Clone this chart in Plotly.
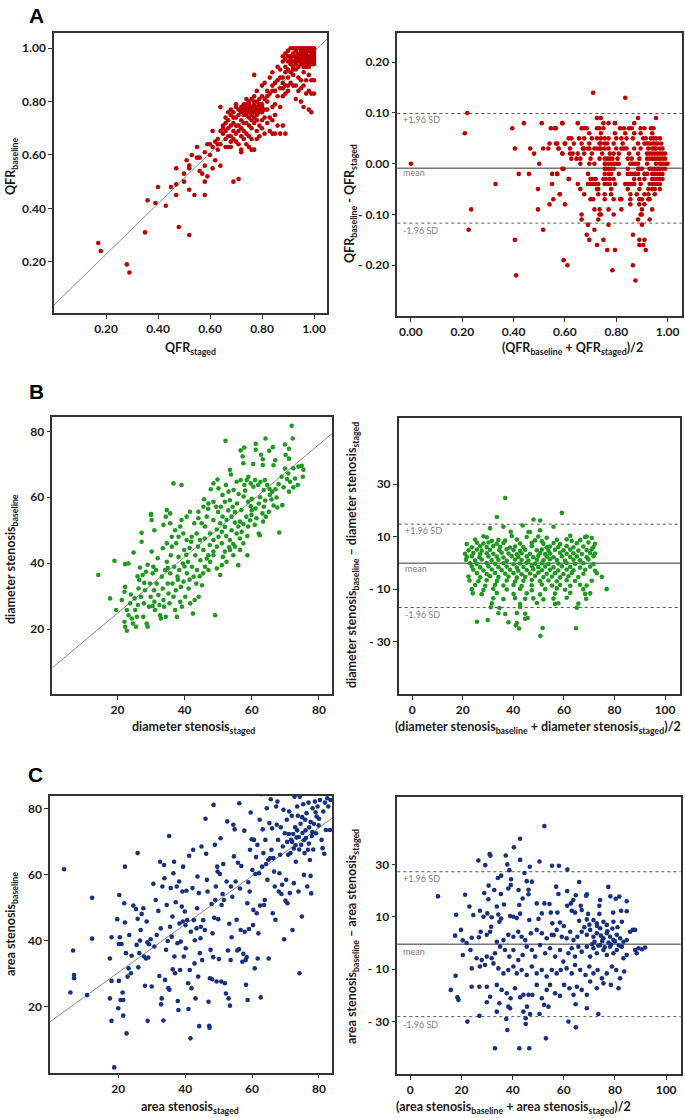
import plotly.graph_objects as go

# -----------------------------
# Data
# -----------------------------
# A: QFR  (staged, baseline)
qfr_scatter = [
    (0.17,0.27),(0.18,0.24),(0.28,0.19),(0.29,0.16),(0.35,0.31),(0.36,0.43),(0.39,0.42),(0.40,0.48),(0.43,0.41),
    (0.45,0.48),(0.47,0.49),(0.47,0.45),(0.47,0.55),(0.48,0.33),(0.50,0.53),(0.50,0.50),(0.52,0.30),(0.52,0.47),
    (0.52,0.56),(0.52,0.55),(0.51,0.58),(0.53,0.60),(0.54,0.45),(0.55,0.59),(0.55,0.63),(0.56,0.54),(0.57,0.53),
    (0.58,0.45),(0.58,0.50),(0.58,0.56),(0.58,0.61),(0.59,0.52),(0.59,0.64),(0.60,0.60),(0.61,0.55),(0.61,0.69),
    (0.62,0.58),(0.62,0.65),(0.63,0.64),(0.64,0.56),(0.64,0.78),(0.64,0.69),(0.65,0.71),(0.65,0.68),(0.66,0.63),
    (0.66,0.66),(0.67,0.73),(0.67,0.63),(0.68,0.67),(0.68,0.75),(0.69,0.50),(0.69,0.69),(0.70,0.71),(0.71,0.51),
    (0.71,0.64),(0.72,0.61),(0.72,0.62),(0.56,0.59),(0.61,0.63),(0.60,0.64),(0.63,0.62),
    (0.63,0.66),(0.64,0.64),(0.65,0.70),(0.66,0.69),(0.66,0.72),(0.67,0.70),(0.67,0.67),(0.68,0.71),(0.68,0.65),
    (0.68,0.63),(0.69,0.72),(0.69,0.66),(0.70,0.68),(0.70,0.74),(0.70,0.65),(0.71,0.77),(0.71,0.71),(0.71,0.69),
    (0.72,0.73),(0.72,0.70),(0.72,0.67),(0.73,0.75),(0.73,0.69),(0.73,0.66),(0.74,0.72),(0.74,0.68),(0.74,0.64),
    (0.75,0.71),(0.75,0.67),(0.75,0.63),(0.76,0.70),(0.76,0.66),(0.76,0.62),(0.77,0.72),(0.77,0.62),(0.78,0.69),
    (0.78,0.66),(0.79,0.71),(0.79,0.67),(0.80,0.73),(0.80,0.70),(0.81,0.74),(0.81,0.68),(0.82,0.72),(0.83,0.69),
    (0.84,0.68),(0.84,0.73),(0.86,0.71),(0.87,0.68),(0.85,0.75),(0.83,0.74),(0.85,0.68),(0.88,0.71),(0.89,0.68),
    (0.84,0.78),(0.85,0.79),(0.87,0.78),(0.68,0.77),(0.69,0.76),(0.70,0.78),(0.70,0.79),(0.69,0.74),(0.71,0.75),
    (0.67,0.76),(0.66,0.74),(0.74,0.81),(0.76,0.81),(0.78,0.80),(0.80,0.78),(0.81,0.77),(0.82,0.77),(0.82,0.80),
    (0.79,0.81),(0.73,0.72),(0.75,0.74),(0.77,0.74),(0.78,0.73),(0.76,0.73),(0.74,0.76),
    (0.72,0.76),(0.72,0.77),(0.72,0.78),(0.73,0.76),(0.73,0.77),(0.73,0.78),(0.73,0.79),(0.74,0.75),(0.74,0.77),
    (0.74,0.78),(0.74,0.79),(0.75,0.76),(0.75,0.77),(0.75,0.78),(0.75,0.79),(0.76,0.75),(0.76,0.76),(0.76,0.77),
    (0.76,0.78),(0.77,0.76),(0.77,0.77),(0.77,0.78),(0.77,0.79),(0.78,0.75),(0.78,0.76),(0.78,0.77),(0.78,0.78),
    (0.79,0.76),(0.79,0.77),(0.79,0.78),(0.79,0.79),(0.80,0.76),(0.80,0.77),(0.80,0.79),(0.77,0.80),(0.75,0.80),
    (0.78,0.84),(0.77,0.82),(0.80,0.86),(0.81,0.87),(0.82,0.84),(0.82,0.82),(0.83,0.89),(0.84,0.91),(0.84,0.86),
    (0.84,0.84),(0.85,0.87),(0.86,0.93),(0.87,0.89),(0.87,0.85),(0.88,0.82),(0.88,0.87),(0.89,0.91),(0.89,0.86),
    (0.89,0.83),(0.90,0.89),(0.91,0.95),(0.91,0.87),(0.92,0.90),(0.93,0.86),(0.93,0.81),(0.94,0.84),(0.95,0.88),
    (0.96,0.86),(0.96,0.78),(0.97,0.88),(0.98,0.84),(0.99,0.76),(0.99,0.83),(0.99,0.88),(0.77,0.90),(0.80,0.82),
    (0.81,0.81),(0.83,0.83),(0.85,0.84),(0.86,0.88),(0.86,0.82),(0.88,0.85),(0.88,0.89),(0.90,0.86),(0.90,0.84),
    (0.91,0.91),(0.92,0.86),(0.93,0.92),(0.94,0.89),(0.95,0.85),(0.96,0.91),(0.97,0.83),(0.98,0.90),(1.00,0.83),
    (1.00,0.88),(0.98,0.77),(0.95,0.80),(0.87,0.92),(0.89,0.93),(0.90,0.92),(0.92,0.92),
    (0.88,0.95),(0.88,0.97),(0.89,0.96),(0.89,0.98),(0.90,0.95),(0.90,0.97),(0.90,0.99),(0.91,1.00),(0.91,0.97),
    (0.91,0.96),(0.91,0.94),(0.92,0.93),(0.92,0.95),(0.92,0.97),(0.92,0.98),(0.92,1.00),(0.93,0.94),(0.93,0.96),
    (0.93,0.97),(0.93,0.99),(0.94,0.93),(0.94,0.95),(0.94,0.96),(0.94,0.98),(0.94,1.00),(0.95,0.94),(0.95,0.95),
    (0.95,0.97),(0.95,0.99),(0.95,1.00),(0.96,0.93),(0.96,0.94),(0.96,0.96),(0.96,0.97),(0.96,0.98),(0.96,1.00),
    (0.97,0.94),(0.97,0.95),(0.97,0.96),(0.97,0.98),(0.97,0.99),(0.97,1.00),(0.98,0.93),(0.98,0.95),(0.98,0.96),
    (0.98,0.97),(0.98,0.99),(0.98,1.00),(0.99,0.94),(0.99,0.95),(0.99,0.97),(0.99,0.98),(0.99,1.00),(1.00,0.94),
    (1.00,0.95),(1.00,0.96),(1.00,0.97),(1.00,0.98),(1.00,0.99),(1.00,1.00),(0.99,0.96),(0.98,0.94),(0.97,0.97),
    (0.95,0.96),(0.94,0.97),(0.93,0.95),(0.95,0.98),(0.96,0.95),(0.96,0.99),(0.97,0.93),(0.99,0.99),(0.93,1.00),
]
qfr_fit = (0.038, 0.949)  # intercept, slope

# A: Bland-Altman (mean, difference)
qfr_ba = [
    (0.0,0.0),(0.22,0.10),(0.21,0.06),(0.235,-0.09),(0.225,-0.13),(0.33,-0.04),(0.395,0.07),(0.405,0.03),
    (0.405,-0.15),(0.41,-0.22),(0.42,-0.02),(0.44,0.08),(0.46,-0.02),(0.465,0.03),(0.48,0.02),(0.50,0.0),
    (0.495,-0.05),(0.495,-0.09),(0.51,0.08),(0.515,0.03),(0.515,-0.13),(0.54,-0.08),(0.54,0.04),(0.535,0.03),
    (0.545,0.07),(0.55,-0.02),(0.55,-0.04),(0.555,-0.07),(0.565,0.07),(0.57,0.04),(0.57,-0.02),(0.575,0.03),
    (0.58,-0.06),(0.59,0.08),(0.59,0.02),(0.595,-0.01),(0.60,0.04),(0.60,-0.08),(0.595,-0.19),(0.61,-0.20),
    (0.615,-0.03),(0.71,0.14),(0.835,0.13),
    (0.725,0.09),(0.74,0.09),(0.885,0.09),(0.955,0.09),
    (0.59,0.08),(0.65,0.08),(0.75,0.08),(0.77,0.08),(0.795,0.08),(0.87,0.08),
    (0.56,0.07),(0.665,0.07),(0.675,0.07),(0.685,0.07),(0.725,0.07),(0.735,0.07),(0.75,0.07),(0.815,0.07),
    (0.83,0.07),(0.85,0.07),(0.86,0.07),(0.895,0.07),(0.91,0.07),(0.935,0.07),(0.945,0.07),
    (0.695,0.06),(0.74,0.06),(0.795,0.06),(0.835,0.06),(0.87,0.06),(0.895,0.06),(0.94,0.06),
    (0.615,0.05),(0.625,0.05),(0.655,0.05),(0.675,0.05),(0.705,0.05),(0.725,0.05),(0.74,0.05),(0.755,0.05),
    (0.77,0.05),(0.80,0.05),(0.82,0.05),(0.84,0.05),(0.865,0.05),(0.905,0.05),(0.915,0.05),(0.935,0.05),
    (0.945,0.05),(0.955,0.05),(0.97,0.05),
    (0.565,0.04),(0.60,0.04),(0.635,0.04),(0.665,0.04),(0.695,0.04),(0.735,0.04),(0.74,0.04),(0.755,0.04),
    (0.765,0.04),(0.79,0.04),(0.825,0.04),(0.885,0.04),(0.91,0.04),(0.92,0.04),(0.93,0.04),(0.94,0.04),
    (0.95,0.04),(0.96,0.04),(0.975,0.04),
    (0.575,0.03),(0.62,0.03),(0.67,0.03),(0.675,0.03),(0.69,0.03),(0.695,0.03),(0.715,0.03),(0.725,0.03),
    (0.735,0.03),(0.74,0.03),(0.755,0.03),(0.77,0.03),(0.80,0.03),(0.82,0.03),(0.83,0.03),(0.84,0.03),
    (0.87,0.03),(0.895,0.03),(0.925,0.03),(0.94,0.03),(0.95,0.03),(0.955,0.03),(0.97,0.03),(0.98,0.03),
    (0.59,0.02),(0.62,0.02),(0.63,0.02),(0.65,0.02),(0.675,0.02),(0.705,0.02),(0.745,0.02),(0.775,0.02),
    (0.79,0.02),(0.81,0.02),(0.85,0.02),(0.885,0.02),(0.92,0.02),(0.93,0.02),(0.94,0.02),(0.95,0.02),
    (0.96,0.02),(0.97,0.02),(0.98,0.02),(0.99,0.02),
    (0.625,0.01),(0.645,0.01),(0.66,0.01),(0.70,0.01),(0.735,0.01),(0.755,0.01),(0.765,0.01),(0.775,0.01),
    (0.785,0.01),(0.805,0.01),(0.845,0.01),(0.86,0.01),(0.89,0.01),(0.92,0.01),(0.93,0.01),(0.94,0.01),
    (0.95,0.01),(0.96,0.01),(0.97,0.01),(0.98,0.01),(0.99,0.01),
    (0.66,0.0),(0.695,0.0),(0.715,0.0),(0.755,0.0),(0.76,0.0),(0.77,0.0),(0.78,0.0),(0.79,0.0),(0.80,0.0),
    (0.81,0.0),(0.855,0.0),(0.865,0.0),(0.875,0.0),(0.885,0.0),(0.92,0.0),(0.955,0.0),(0.97,0.0),(0.975,0.0),
    (0.985,0.0),(0.995,0.0),(1.0,0.0),
    (0.59,-0.01),(0.755,-0.01),(0.76,-0.01),(0.77,-0.01),(0.78,-0.01),(0.79,-0.01),(0.845,-0.01),(0.885,-0.01),
    (0.89,-0.01),(0.90,-0.01),(0.93,-0.01),(0.94,-0.01),(0.95,-0.01),(0.96,-0.01),(0.97,-0.01),(0.98,-0.01),
    (0.99,-0.01),
    (0.57,-0.02),(0.69,-0.02),(0.755,-0.02),(0.77,-0.02),(0.78,-0.02),(0.81,-0.02),(0.845,-0.02),(0.855,-0.02),
    (0.865,-0.02),(0.875,-0.02),(0.885,-0.02),(0.91,-0.02),(0.92,-0.02),(0.94,-0.02),(0.95,-0.02),(0.96,-0.02),
    (0.97,-0.02),(0.98,-0.02),
    (0.615,-0.03),(0.70,-0.03),(0.71,-0.03),(0.72,-0.03),(0.75,-0.03),(0.76,-0.03),(0.775,-0.03),(0.79,-0.03),
    (0.87,-0.03),(0.89,-0.03),(0.91,-0.03),(0.94,-0.03),(0.95,-0.03),(0.96,-0.03),(0.97,-0.03),(0.98,-0.03),
    (0.65,-0.04),(0.69,-0.04),(0.70,-0.04),(0.71,-0.04),(0.72,-0.04),(0.73,-0.04),(0.755,-0.04),(0.765,-0.04),
    (0.775,-0.04),(0.795,-0.04),(0.835,-0.04),(0.845,-0.04),(0.855,-0.04),(0.865,-0.04),(0.87,-0.04),
    (0.895,-0.04),(0.93,-0.04),(0.94,-0.04),(0.95,-0.04),(0.96,-0.04),(0.97,-0.04),
    (0.66,-0.05),(0.725,-0.05),(0.73,-0.05),(0.78,-0.05),(0.845,-0.05),(0.89,-0.05),(0.925,-0.05),(0.94,-0.05),
    (0.95,-0.05),(0.97,-0.05),
    (0.58,-0.06),(0.675,-0.06),(0.73,-0.06),(0.755,-0.06),(0.78,-0.06),(0.855,-0.06),(0.88,-0.06),(0.91,-0.06),
    (0.925,-0.06),(0.95,-0.06),
    (0.70,-0.07),(0.71,-0.07),(0.755,-0.07),(0.79,-0.07),(0.815,-0.07),(0.82,-0.07),(0.855,-0.07),(0.89,-0.07),
    (0.90,-0.07),(0.925,-0.07),(0.93,-0.07),
    (0.855,-0.08),(0.89,-0.08),(0.91,-0.08),
    (0.715,-0.09),(0.735,-0.09),(0.77,-0.09),(0.82,-0.09),(0.90,-0.09),(0.94,-0.09),
    (0.665,-0.10),(0.735,-0.10),(0.74,-0.10),(0.79,-0.10),(0.895,-0.10),(0.90,-0.10),
    (0.665,-0.11),(0.73,-0.11),(0.885,-0.11),(0.93,-0.11),
    (0.69,-0.12),(0.77,-0.12),(0.90,-0.12),
    (0.715,-0.13),
    (0.685,-0.14),(0.865,-0.14),
    (0.695,-0.15),(0.75,-0.15),(0.89,-0.15),(0.91,-0.15),
    (0.725,-0.16),(0.89,-0.16),(0.905,-0.16),
    (0.765,-0.17),(0.795,-0.17),(0.915,-0.17),
    (0.865,-0.20),(0.785,-0.21),(0.875,-0.23),
]
qfr_limits = (-0.009, 0.099, -0.117)  # mean, +1.96 SD, -1.96 SD

# B: diameter stenosis (staged, baseline)
ds_scatter = [
    (71.9,81.7),(72.2,77.8),(64.1,77.8),(52.2,77.1),(61.2,76.2),(56.7,74.2),(57.8,75.1),(57.3,72.4),(61.2,74.4),
    (62.8,72.9),(65.2,74.1),(66.3,75.2),(69.9,76.0),(71.1,74.7),(71.1,71.7),(70.1,72.8),(67.0,71.2),(66.5,69.7),
    (63.3,71.5),(63.3,69.8),(60.4,70.1),(57.5,70.3),(53.5,68.3),(69.9,68.7),(72.4,68.8),(73.9,69.3),(74.9,69.5),
    (75.4,68.3),(75.2,66.2),(70.9,67.2),(68.9,66.2),(71.4,64.7),(72.9,65.7),(73.7,63.7),(72.4,63.0),(71.1,61.7),
    (53.8,66.9),(55.5,64.7),(56.7,65.2),(57.8,63.7),(58.5,65.2),(59.0,66.2),(59.7,64.2),(61.0,65.2),(60.5,63.2),
    (61.9,63.7),(62.6,64.7),(63.9,65.2),(64.6,63.7),(65.3,62.5),(63.6,62.2),(66.1,61.7),(67.1,62.4),(65.4,60.7),
    (65.9,59.3),(67.4,59.9),(69.1,57.6),(67.6,56.9),(65.1,55.6),(63.6,57.1),(62.1,58.1),(61.1,56.6),(59.7,57.3),
    (58.9,58.6),(57.6,60.2),(56.1,61.0),(54.6,62.2),(53.1,61.7),(51.3,60.7),(49.8,65.4),(48.6,64.2),(47.8,62.4),
    (50.1,62.7),(52.3,63.7),(45.8,59.4),(47.1,58.1),(48.6,58.6),(49.4,57.1),(50.8,57.1),(52.0,58.6),(53.5,59.1),
    (54.3,57.1),(55.6,58.1),(56.9,56.1),(58.4,54.1),(59.9,54.6),(61.4,53.6),(63.2,55.1),(64.2,54.1),(63.4,52.6),
    (60.9,51.6),(58.9,51.1),(62.1,49.0),(62.4,48.5),(58.7,48.2),(56.5,47.5),(56.0,51.1),(55.0,52.3),(56.5,52.6),
    (57.5,51.9),(54.0,54.1),(52.5,53.1),(51.3,54.1),(50.6,52.1),(49.6,50.2),(51.1,49.5),(52.4,48.2),(53.5,47.0),
    (54.5,45.8),(53.3,44.8),(51.1,46.0),(49.6,45.0),(48.6,47.0),(47.6,49.0),(46.1,51.1),(45.1,52.1),(44.1,53.6),
    (42.9,52.1),(41.6,55.6),(40.6,54.1),(39.1,53.1),(44.1,55.6),(45.6,57.1),(46.6,54.1),(48.6,53.1),(50.1,48.0),
    (48.6,43.5),(47.1,42.4),(45.6,44.0),(44.6,47.0),(43.6,49.0),(42.1,48.0),(40.6,47.0),(39.6,49.0),(38.7,51.1),
    (37.2,50.0),(36.2,48.0),(34.7,46.0),(36.7,64.2),(39.1,63.7),(34.7,56.1),(35.7,55.1),(34.4,54.1),(30.0,54.9),
    (30.2,53.1),(31.0,50.0),(33.7,51.6),(35.7,52.1),(38.2,48.0),(68.2,49.3),
    (14.3,36.4),(17.8,29.3),(19.1,40.7),(19.6,25.8),(22.1,31.3),(22.3,32.8),(22.1,22.2),(22.3,20.7),(22.8,19.5),
    (21.3,28.8),(22.3,39.7),(23.3,39.9),(22.8,25.8),(23.3,24.2),(23.8,27.8),(24.3,23.2),(24.6,21.7),(24.8,43.2),
    (25.1,29.3),(25.3,25.8),(25.5,20.7),(25.8,23.7),(26.1,27.3),(26.3,32.3),(26.5,34.9),(26.7,38.7),(27.0,29.8),
    (27.2,46.5),(27.2,49.2),(27.5,36.4),(27.7,23.7),(27.9,27.8),(28.2,31.8),(28.5,37.4),(28.7,21.7),(29.0,20.7),
    (29.4,26.8),(29.7,33.8),(29.9,29.8),(30.0,54.6),(30.2,43.5),(30.5,36.9),(30.7,38.9),(30.9,31.8),(31.0,28.3),
    (31.2,25.8),(31.5,37.9),(31.7,33.8),(32.2,30.3),(32.5,27.3),(32.7,24.2),(33.0,23.2),(33.2,35.9),(33.5,32.3),
    (33.7,28.8),(33.9,26.8),(34.2,37.9),(34.4,23.7),(34.7,40.4),(35.0,33.8),(35.2,30.8),(35.5,27.8),(35.7,36.9),
    (35.9,42.4),(36.2,45.0),(36.4,33.8),(36.7,29.8),(36.9,38.9),(37.2,25.8),(37.4,31.8),(37.7,23.7),(37.9,35.9),
    (38.2,41.9),(38.4,37.9),(38.7,28.3),(38.9,32.8),(39.2,26.8),(39.5,39.9),(39.7,34.4),(39.9,44.0),(40.2,29.8),
    (40.7,36.9),(41.0,40.4),(41.2,32.3),(41.5,44.6),(41.7,27.8),(42.2,38.9),(42.5,24.7),(42.7,35.9),(43.0,28.8),
    (43.2,42.4),(43.5,33.8),(43.7,37.9),(44.2,29.8),(44.7,40.9),(45.2,33.3),(45.5,36.9),(46.1,38.9),(46.6,41.4),
    (47.1,37.9),(47.6,40.4),(48.6,42.4),(49.1,24.2),(49.6,38.4),(51.1,39.4),(51.4,41.9),(52.5,40.4),(52.0,43.5),
    (54.5,42.4),(56.0,39.4),(58.7,42.4),(50.6,36.4),(53.5,44.0),(55.0,45.0),(57.5,46.0),(56.5,44.0),
    (32.0,41.5),(33.5,44.5),(37.5,46.0),(40.5,42.5),(42.0,46.5),(44.0,45.0),(46.0,47.5),(47.5,45.5),(35.0,38.5),
    (38.0,35.0),(41.5,35.0),(44.5,36.0),(40.0,39.0),(29.0,39.5),(26.0,36.0),(28.0,34.0),(24.0,30.5),(30.5,27.0),
    (52.0,51.0),(54.0,50.0),(55.5,49.0),(57.0,49.5),(59.5,53.0),(60.0,56.0),(62.5,60.0),(64.0,59.0),(66.5,57.5),
    (68.0,64.0),(69.5,63.0),(70.5,65.5),(60.0,59.5),(58.0,62.0),(55.0,55.5),(53.0,56.0),(50.0,55.5),(47.0,56.5),
]
ds_fit = (7.74, 0.853)

# B: Bland-Altman
ds_ba = [
    (36.8,24.8),(59.2,19.1),(33.5,17.5),(48.0,16.6),(50.6,16.2),(36.1,13.8),(55.9,13.8),(43.7,14.3),(30.8,13.2),
    (46.0,11.8),(46.6,11.8),(39.0,11.9),(50.6,12.5),
    (28.2,10.2),(29.5,9.8),(39.4,10.3),(45.3,9.9),(49.9,10.1),(53.2,9.6),(62.5,10.4),(68.4,9.9),(69.0,10.1),(71.0,9.5),
    (24.9,8.9),(31.5,8.4),(34.1,8.8),(36.8,8.5),(41.4,8.9),(48.6,8.6),(51.3,8.3),(57.2,8.8),(61.1,9.0),(63.1,8.4),(66.4,8.7),
    (21.6,7.2),(25.6,7.7),(28.2,7.4),(30.2,7.8),(33.5,7.3),(36.1,7.6),(42.7,7.4),(47.3,7.7),(51.9,7.3),(55.9,7.6),
    (58.5,7.2),(65.1,7.5),(69.7,7.8),(72.3,7.3),
    (23.6,6.0),(26.9,6.4),(29.5,6.1),(32.1,6.5),(34.8,6.2),(38.7,5.9),(40.7,6.3),(44.0,6.1),(47.3,6.4),(53.2,6.0),
    (54.5,6.3),(57.8,6.1),(61.1,6.4),(63.8,6.0),(67.7,6.3),(71.7,6.1),
    (22.3,4.8),(25.6,5.1),(27.5,4.7),(30.8,5.0),(34.5,4.8),(37.4,5.2),(40.1,4.9),(42.7,4.6),(44.7,5.0),(49.3,4.8),
    (51.3,5.1),(53.9,4.7),(56.5,5.0),(59.8,4.8),(62.5,5.1),(65.7,4.7),(69.0,4.9),(71.0,5.2),
    (20.9,3.5),(24.2,3.8),(26.9,3.4),(29.5,3.7),(32.1,3.5),(35.4,3.9),(38.1,3.6),(41.4,3.3),(43.3,3.7),(46.6,3.5),
    (50.6,3.8),(52.6,3.4),(54.5,3.6),(58.5,3.9),(61.1,3.5),(63.8,3.7),(67.1,3.4),(70.4,3.8),(72.3,3.6),
    (21.6,2.3),(23.6,2.6),(26.6,2.2),(30.2,2.5),(33.5,2.4),(36.1,2.1),(39.4,2.6),(42.0,2.3),(45.3,2.5),(47.9,2.2),
    (49.9,2.7),(53.2,2.4),(55.9,2.2),(59.2,2.6),(62.5,2.3),(65.1,2.5),(69.0,2.2),(71.7,2.6),
    (21.3,1.2),(24.9,0.9),(27.5,1.3),(31.5,1.0),(34.1,1.2),(37.4,0.8),(40.7,1.3),(43.3,1.1),(46.0,0.9),(49.3,1.2),
    (51.9,1.0),(54.5,1.4),(57.2,1.1),(60.5,0.8),(63.8,1.2),(66.4,1.0),(69.7,1.3),
    (22.9,-0.1),(25.6,-0.4),(29.5,0.0),(32.8,-0.3),(36.1,-0.1),(40.1,-0.5),(42.7,-0.2),(45.3,0.1),(48.6,-0.3),
    (51.3,-0.1),(53.9,-0.4),(57.8,-0.2),(61.1,0.0),(64.4,-0.3),(67.7,-0.1),(71.7,-0.4),
    (23.6,-1.4),(26.9,-1.7),(30.2,-1.3),(34.1,-1.6),(37.4,-1.4),(41.4,-1.8),(44.0,-1.5),(47.3,-1.2),(49.9,-1.6),
    (52.6,-1.4),(55.9,-1.7),(59.2,-1.3),(62.5,-1.5),(66.4,-1.8),(70.4,-1.4),
    (24.2,-2.6),(28.2,-2.9),(31.5,-2.5),(35.4,-2.8),(38.7,-2.6),(42.0,-3.0),(45.3,-2.7),(47.9,-2.4),(51.3,-2.8),
    (54.5,-2.6),(57.8,-2.9),(61.1,-2.5),(63.8,-2.8),(68.4,-2.6),(72.3,-3.0),
    (25.6,-3.9),(29.5,-4.2),(32.8,-3.8),(36.8,-4.1),(40.1,-3.9),(43.3,-4.3),(46.6,-4.0),(49.9,-3.7),(53.2,-4.1),
    (56.5,-3.9),(59.8,-4.2),(63.1,-3.8),(67.7,-4.1),(73.0,-3.9),
    (22.3,-5.2),(26.9,-5.5),(30.8,-5.1),(34.1,-5.4),(38.1,-5.2),(41.4,-5.6),(44.7,-5.3),(48.6,-5.0),(51.9,-5.4),
    (55.3,-5.2),(58.5,-5.5),(61.8,-5.1),(65.7,-5.4),(75.0,-5.3),
    (22.7,-6.7),(26.2,-7.0),(29.5,-6.6),(33.5,-6.9),(37.4,-6.7),(40.7,-7.1),(44.0,-6.8),(47.3,-6.5),(50.6,-6.9),
    (53.9,-6.7),(57.2,-7.0),(61.1,-6.6),(64.4,-6.9),(71.0,-6.8),
    (24.9,-8.4),(28.9,-8.7),(32.8,-8.3),(36.1,-8.6),(40.1,-8.4),(43.3,-8.8),(47.3,-8.5),(51.3,-8.2),(55.3,-8.6),
    (58.5,-8.4),(62.5,-8.7),(66.4,-8.3),(69.0,-8.6),
    (23.6,-10.0),(28.2,-10.3),(32.1,-9.8),(37.4,-10.1),(42.7,-9.9),(47.3,-10.4),(52.6,-10.0),(57.2,-9.7),
    (60.5,-10.2),(67.7,-10.0),(76.9,-10.0),
    (24.0,-11.6),(27.5,-11.9),(33.5,-11.5),(40.1,-11.8),(45.3,-11.6),(50.6,-12.0),(56.5,-11.7),(62.5,-11.4),
    (68.4,-11.8),(70.4,-11.6),
    (32.1,-13.5),(36.1,-13.8),(40.7,-13.4),(44.7,-13.7),(47.9,-13.5),(51.9,-13.9),(55.9,-13.6),(61.1,-13.3),(68.8,-13.7),
    (31.5,-15.4),(42.7,-15.7),(49.3,-15.3),(56.5,-15.6),(57.8,-15.4),(65.7,-15.5),
    (31.1,-16.9),(34.5,-17.2),(42.7,-16.8),(65.1,-17.1),
    (34.1,-19.2),(36.8,-19.5),(41.4,-19.1),(44.7,-19.4),
    (45.7,-21.0),(44.7,-21.3),(25.6,-22.4),(29.9,-21.8),(38.1,-22.6),(41.4,-22.9),
    (41.0,-23.8),(42.3,-25.0),(51.6,-24.8),(64.8,-24.9),(50.7,-27.8),
]
ds_limits = (-0.1, 14.8, -17.0)

# C: area stenosis (staged, baseline)
as_scatter = [
    (3.8,61.7),(5.7,24.4),(6.5,37.1),(6.8,29.7),(6.8,28.7),(10.7,23.6),(12.2,53.1),(12.2,40.7),
    (17.5,34.7),(17.5,22.6),(18.0,41.1),(18.0,27.9),(18.0,15.8),(18.8,1.7),(19.7,46.6),(20.0,19.6),(20.2,39.1),
    (20.2,27.9),(20.3,53.9),(20.5,41.1),(20.7,22.1),(21.0,39.1),(21.3,24.4),(21.5,22.1),(21.5,17.4),(21.8,51.4),
    (22.0,62.5),(22.0,45.6),(22.3,36.3),(22.5,12.0),(22.8,29.2),(23.1,31.7),(23.3,41.8),(23.8,30.2),(24.0,35.5),
    (24.5,50.7),(25.3,49.7),(25.5,38.8),(25.8,46.7),(25.8,66.6),(26.0,32.0),(26.3,36.3),(26.5,40.1),(26.7,43.3),
    (27.0,48.2),(27.5,49.9),(27.7,35.3),(28.0,26.4),(28.3,34.7),(28.5,45.9),(28.7,39.6),(28.8,15.8),(29.0,35.0),
    (29.2,39.0),(29.7,40.5),(30.0,26.2),(30.5,57.3),(30.8,38.3),(31.2,52.4),(31.5,41.8),(32.0,49.1),(32.3,29.4),
    (32.5,64.0),(32.7,43.8),(32.8,20.8),(33.0,22.6),(33.2,56.5),(33.5,15.9),(33.7,63.0),(33.8,59.0),(34.0,28.2),
    (34.3,37.3),(34.5,50.9),(34.8,40.0),(35.0,25.7),(35.2,71.8),(35.3,25.2),(35.5,44.3),(35.7,56.0),(36.0,41.3),
    (36.2,47.4),(36.3,31.4),(36.5,60.5),(36.7,64.0),(36.8,35.3),(37.0,30.2),(37.2,51.7),(37.5,56.5),(37.7,39.3),
    (37.8,21.8),(38.0,19.1),(38.2,58.0),(38.3,45.3),(38.5,31.2),(38.7,39.8),(39.0,50.4),(39.2,55.0),(39.3,45.9),
    (39.4,62.5),(39.6,35.3),(39.9,48.9),(40.1,44.8),(40.2,37.8),(40.4,55.2),(40.6,46.3),(40.9,27.2),(41.0,19.4),
    (41.2,65.8),(41.4,31.2),(41.6,10.5),(41.7,42.8),(41.9,25.7),(42.2,56.0),(42.4,67.6),(42.6,46.3),(42.8,33.2),
    (42.9,40.2),(43.1,22.6),(43.4,43.8),(43.6,49.9),(43.7,59.5),(43.9,29.2),(44.1,54.5),(44.2,14.2),(44.4,36.3),
    (44.6,40.8),(44.7,44.3),(44.9,68.6),(45.1,34.2),(45.4,46.3),(45.9,43.3),(46.1,77.0),(46.3,66.4),(46.5,58.5),
    (46.7,55.0),(47.0,21.6),(47.2,14.3),(47.3,13.7),(47.4,28.7),(47.6,37.3),(47.9,51.2),(48.1,28.4),(48.2,42.3),
    (48.4,35.1),(48.5,81.2),(48.7,47.0),(48.9,69.1),(49.0,52.4),(49.2,56.5),(49.4,27.7),(49.6,62.5),(49.7,61.0),
    (49.9,46.6),(50.1,34.5),(50.4,60.3),(50.6,71.1),(50.8,27.7),(50.9,50.9),(51.2,54.2),(51.4,63.3),(51.6,52.4),
    (51.9,27.2),(52.2,24.1),(52.4,58.0),(52.6,76.2),(52.8,37.1),(53.0,22.6),(53.2,45.2),(53.4,20.4),(53.6,34.2),
    (53.7,56.5),(53.9,41.1),(54.1,53.4),(54.4,75.2),(54.6,65.6),(54.8,73.8),(55.1,58.0),(55.4,46.4),(55.6,37.1),
    (55.8,63.7),(56.1,37.5),(56.2,81.7),(56.4,55.9),(56.6,43.3),(56.8,62.7),(57.1,33.7),(57.4,36.1),(57.7,73.4),
    (57.8,42.8),(58.1,34.2),(58.2,26.7),(58.4,35.1),(58.6,51.4),(58.7,22.1),(58.9,57.8),(59.1,43.6),(59.3,55.0),
    (59.4,67.6),(59.6,78.9),(59.9,70.8),(60.1,61.5),(60.3,44.8),(60.4,49.4),(60.6,70.6),(60.8,31.7),(61.0,60.3),
    (61.2,65.4),(61.4,48.4),(61.6,69.1),(61.7,34.7),(61.9,42.3),(62.1,60.5),(62.3,76.7),(62.4,50.7),(62.6,22.9),
    (62.8,84.5),(63.0,62.5),(63.2,73.8),(63.4,66.6),(63.6,50.9),(63.8,52.4),(64.0,70.6),(64.2,63.3),(64.4,80.2),
    (64.6,58.5),(64.9,64.6),(65.0,34.7),(65.2,75.7),(65.4,65.1),(65.6,82.9),(65.8,67.6),(66.0,74.1),(66.2,48.4),
    (66.4,65.1),(66.6,61.0),(66.8,56.5),(67.0,46.4),(67.2,80.7),(67.4,75.2),(67.6,82.2),(67.8,70.6),(68.0,55.0),
    (68.2,60.5),(68.4,66.1),(68.6,74.4),(68.8,54.2),(69.0,57.0),(69.2,68.6),(69.4,79.7),(69.6,40.5),(69.8,72.6),
    (70.0,52.2),(70.2,58.5),(70.4,76.7),(70.6,51.4),(70.8,66.1),(71.0,72.4),(71.1,79.2),(71.3,54.5),(71.5,66.6),
    (71.7,70.6),(71.9,77.9),(72.1,43.3),(72.3,72.4),(72.5,57.5),(72.7,83.7),(72.9,74.4),(73.1,64.0),(73.3,71.3),
    (73.5,80.7),(73.7,77.9),(73.9,55.0),(74.1,67.7),(74.2,30.2),(74.3,83.7),(74.5,75.5),(74.7,69.1),(74.9,47.4),
    (75.1,72.7),(75.3,81.4),(75.5,60.0),(75.7,66.6),(75.9,76.7),(76.1,71.2),(76.3,78.7),(76.5,56.5),(76.7,67.6),
    (76.9,81.9),(77.1,74.4),(77.3,64.5),(77.5,59.7),(77.7,54.4),(77.9,71.8),(78.1,80.2),(78.3,67.7),(78.5,75.5),
    (78.8,82.2),(79.1,72.6),(79.3,77.7),(79.6,80.7),(79.9,75.0),(80.3,82.7),(80.8,70.6),(81.1,68.1),(81.3,79.2),
    (81.6,66.4),(81.8,81.9),(82.1,73.6),(82.5,83.2),(82.8,80.7),(83.3,73.6),(83.5,82.7),
    (72.0,70.0),(73.0,69.0),(74.0,71.5),(75.5,70.5),(76.0,73.5),(77.0,69.5),(78.0,73.0),(72.5,68.0),(75.0,77.5),
    (79.0,79.0),(80.0,77.0),(77.5,76.0),(73.5,73.5),(70.5,70.0),
]
as_fit = (15.8, 0.731)

# C: Bland-Altman
as_ba = [
    (52.4,44.6),(42.9,39.8),(40.5,36.5),(31.0,33.9),(31.3,33.3),(37.3,33.4),(26.6,31.5),(42.9,31.7),(50.5,31.1),
    (37.9,30.0),(29.3,29.7),(55.4,29.5),(58.1,29.5),(46.7,29.1),(61.4,28.0),(38.7,27.8),(44.6,26.7),(35.5,25.7),
    (39.4,24.3),(34.2,24.8),(45.5,23.6),(47.5,23.4),(66.0,23.3),(30.6,21.9),(39.3,22.1),(57.0,21.5),(77.4,21.4),
    (38.3,20.8),(46.2,20.3),(32.8,20.2),(42.3,20.2),(61.3,19.8),(69.0,18.6),(10.8,17.8),(21.4,18.4),(28.9,19.1),
    (57.9,18.7),(35.4,18.7),(46.2,18.6),(64.7,18.2),(68.7,18.0),(81.7,17.7),(78.2,17.8),(74.2,16.4),(84.6,15.9),
    (80.3,16.9),(63.7,16.4),(62.8,15.1),(30.5,16.7),(43.9,17.0),(49.4,15.1),(52.4,15.1),(54.4,14.9),(36.6,14.7),
    (42.6,14.5),(61.3,14.2),(73.9,14.2),(66.6,14.2),(23.1,13.9),(33.8,13.9),(67.0,12.6),(27.2,12.3),(30.1,11.3),
    (17.9,10.8),(24.6,10.7),(39.0,10.3),(40.3,10.0),(41.6,9.5),(42.9,11.2),(34.4,10.9),(51.4,11.3),(54.9,11.6),
    (57.5,11.6),(63.1,12.3),(64.4,11.6),(69.5,11.1),(73.9,11.1),(79.3,11.6),(82.4,12.3),(84.6,12.1),(28.6,10.0),
    (31.8,9.8),(35.5,9.3),(46.5,8.8),(50.1,9.2),(55.5,7.5),(58.5,7.8),(69.0,9.0),(71.6,8.8),(75.5,8.1),(72.9,7.5),
    (76.8,6.9),(79.4,8.1),(82.7,8.1),(31.6,6.2),(34.8,8.1),(27.5,4.3),(19.8,5.0),(17.5,2.8),(20.5,1.0),(22.0,0.0),
    (24.0,2.0),(26.8,2.2),(29.9,3.1),(31.2,4.3),(33.8,0.5),(36.4,1.1),(38.3,3.1),(40.3,2.4),(42.2,4.3),(43.5,2.4),
    (44.9,1.1),(47.1,3.7),(49.4,5.0),(51.4,3.7),(53.3,1.8),(55.3,3.1),(57.2,5.0),(59.2,2.4),(61.1,1.8),(62.5,4.3),
    (63.8,1.1),(65.3,2.4),(67.0,4.3),(69.0,3.1),(70.3,5.0),(71.6,2.4),(72.9,3.7),(74.2,5.6),(75.5,1.8),(76.8,3.7),
    (78.1,2.4),(79.4,1.1),(80.7,3.1),(82.0,1.8),(83.3,0.5),(84.6,1.1),(85.9,4.3),(87.0,5.0),(87.9,5.0),
    (89.2,-2.0),(87.9,-2.7),(90.5,-2.4),(91.8,-1.7),(88.5,-3.9),(84.6,-4.6),(83.3,-5.8),(82.7,-1.4),(80.7,-2.7),
    (79.4,-3.9),(78.1,-1.4),(76.8,-4.6),(75.5,-2.7),(74.2,-0.8),(72.9,-3.9),(71.6,-2.0),(70.3,-5.2),(69.0,-1.4),
    (67.0,-3.3),(65.7,-1.4),(64.4,-5.2),(63.1,-2.0),(61.8,-3.9),(59.8,-7.1),(58.5,-2.7),(56.6,-5.2),(54.6,-2.0),
    (52.7,-3.9),(50.7,-0.8),(48.8,-5.2),(47.5,-2.7),(45.5,-1.4),(43.9,-4.6),(42.2,-6.5),(40.3,-2.7),(38.7,-5.2),
    (37.0,-2.7),(35.1,-1.4),(33.1,-3.9),(31.8,-5.8),(29.9,-5.2),(27.9,-6.5),(25.9,-5.8),(23.5,-2.7),(20.5,-4.6),
    (24.0,-9.7),(27.2,-9.0),(29.2,-8.4),(32.5,-7.8),(34.4,-9.7),(36.4,-11.6),(38.3,-10.3),(40.3,-9.0),(41.6,-11.6),
    (43.5,-10.3),(45.5,-12.2),(47.5,-9.0),(49.4,-11.6),(51.4,-10.3),(53.3,-12.8),(55.3,-10.3),(57.2,-11.6),
    (58.8,-10.3),(61.1,-9.7),(63.1,-11.6),(64.4,-8.4),(66.4,-10.3),(68.5,-12.2),(70.0,-9.0),(71.6,-11.6),
    (73.2,-10.3),(74.9,-13.5),(76.8,-11.6),(78.8,-9.0),(80.5,-10.3),(82.0,-13.5),(83.6,-10.9),(81.4,-17.3),
    (78.4,-16.0),(75.5,-15.4),(72.9,-17.3),(70.3,-14.7),(69.0,-19.8),(67.0,-17.9),(65.1,-16.7),(63.8,-19.8),
    (62.2,-17.3),(60.1,-16.0),(58.5,-20.2),(56.6,-19.2),(54.6,-16.0),(53.3,-17.9),(51.4,-21.1),(49.4,-16.0),
    (47.7,-19.8),(46.2,-19.8),(44.2,-19.8),(42.9,-20.7),(40.9,-17.3),(39.2,-21.1),(37.7,-19.2),(35.7,-17.9),
    (33.8,-16.0),(31.2,-20.5),(29.9,-16.7),(27.0,-16.7),(24.0,-16.7),(15.8,-17.9),(17.7,-12.5),(18.4,-20.7),
    (18.8,-21.7),(22.3,-30.0),(27.0,-27.8),(29.9,-22.6),(33.8,-26.2),(34.8,-23.0),(37.5,-29.0),(37.9,-33.2),
    (38.3,-24.3),(39.0,-24.9),(44.2,-26.2),(45.6,-24.3),(46.8,-27.1),(45.1,-28.7),(45.1,-30.9),(50.5,-27.1),
    (52.3,-23.6),(54.0,-24.3),(53.0,-36.4),(61.8,-30.0),(64.7,-32.2),(64.6,-23.4),(69.0,-24.9),(73.5,-27.1),
    (33.1,-40.2),(42.6,-40.2),(46.5,-40.2),
    (72.0,0.5),(73.5,-1.0),(75.0,0.8),(76.0,-1.6),(77.5,0.2),(78.5,-0.6),(80.0,0.6),(81.5,-0.9),(71.0,-0.5),
    (74.5,2.8),(77.0,4.5),(79.0,5.5),(81.0,6.0),(73.0,6.5),(70.0,7.0),(68.0,6.0),(66.0,8.5),(60.0,6.5),(56.0,3.0),
]
as_limits = (-0.45, 27.2, -28.1)

# -----------------------------
# Layout helpers (pixel -> paper)
# -----------------------------
W, H = 685, 1118
RED, GREEN, BLUE = "#BF0000", "#1E9A1E", "#16317E"
AX = "#333333"
FONT = "Lato"


def fx(p):
    return p / W


def fy(p):
    return 1 - p / H


panels = [
    dict(n=1, pts=qfr_scatter, color=RED, box=(54, 33, 327, 313), xr=[0.0, 1.05], yr=[0.008, 1.057],
         xt=[0.2, 0.4, 0.6, 0.8, 1.0], xtt=["0.20", "0.40", "0.60", "0.80", "1.00"],
         yt=[0.2, 0.4, 0.6, 0.8, 1.0], ytt=["0.20", "0.40", "0.60", "0.80", "1.00"], fit=qfr_fit),
    dict(n=2, pts=qfr_ba, color=RED, box=(397.3, 33.3, 681.7, 316), xr=[-0.053, 1.055], yr=[-0.30, 0.257],
         xt=[0, 0.2, 0.4, 0.6, 0.8, 1.0], xtt=["0.00", "0.20", "0.40", "0.60", "0.80", "1.00"],
         yt=[-0.2, -0.1, 0, 0.1, 0.2], ytt=["- 0.20", "- 0.10", "0.00", "0.10", "0.20"], lim=qfr_limits,
         labels=(119.5, 172.7, 230.7)),
    dict(n=3, pts=ds_scatter, color=GREEN, box=(52.3, 417.3, 332.3, 694), xr=[0.6, 84.0], yr=[0.3, 84.25],
         xt=[20, 40, 60, 80], xtt=["20", "40", "60", "80"], yt=[20, 40, 60, 80], ytt=["20", "40", "60", "80"],
         fit=ds_fit),
    dict(n=4, pts=ds_ba, color=GREEN, box=(398.7, 417.7, 680, 694.3), xr=[-5.3, 105.9], yr=[-50.1, 55.4],
         xt=[0, 20, 40, 60, 80, 100], xtt=["0", "20", "40", "60", "80", "100"],
         yt=[-30, -10, 10, 30], ytt=["- 30", "- 10", "10", "30"], lim=ds_limits, labels=(530, 568.3, 614)),
    dict(n=5, pts=as_scatter, color=BLUE, box=(50, 796, 332.3, 1072.7), xr=[-0.4, 84.0], yr=[0.1, 83.9],
         xt=[20, 40, 60, 80], xtt=["20", "40", "60", "80"], yt=[20, 40, 60, 80], ytt=["20", "40", "60", "80"],
         fit=as_fit),
    dict(n=6, pts=as_ba, color=BLUE, box=(397.3, 797.3, 680.7, 1074), xr=[-5.1, 105.7], yr=[-50.0, 55.6],
         xt=[0, 20, 40, 60, 80, 100], xtt=["0", "20", "40", "60", "80", "100"],
         yt=[-30, -10, 10, 30], ytt=["- 30", "- 10", "10", "30"], lim=as_limits, labels=(878.3, 951, 1024.3)),
]

fig = go.Figure()
layout = dict(width=W, height=H, autosize=False, margin=dict(l=0, r=0, t=0, b=0),
              paper_bgcolor="white", plot_bgcolor="white", showlegend=False)
shapes, annotations = [], []

for p in panels:
    n = p["n"]
    sx = "" if n == 1 else str(n)
    l, t, r, b = p["box"]
    axis_common = dict(showline=True, mirror=True, linecolor=AX, linewidth=1.5, ticks="outside",
                       ticklen=4, tickwidth=1.2, tickcolor=AX, showgrid=False, zeroline=False,
                       tickfont=dict(family=FONT, size=12, color="#1a1a1a", weight="bold"),
                       tickmode="array", fixedrange=True)
    layout["xaxis" + sx] = dict(axis_common, domain=[fx(l), fx(r)], range=p["xr"],
                                tickvals=p["xt"], ticktext=p["xtt"], anchor="y" + sx)
    layout["yaxis" + sx] = dict(axis_common, domain=[fy(b), fy(t)], range=p["yr"],
                                tickvals=p["yt"], ticktext=p["ytt"], anchor="x" + sx)

    xs = [q[0] for q in p["pts"]]
    ys = [q[1] for q in p["pts"]]

    if "fit" in p:
        b0, b1 = p["fit"]
        lx = [p["xr"][0], p["xr"][1]]
        fig.add_trace(go.Scatter(x=lx, y=[b0 + b1 * v for v in lx], mode="lines",
                                 line=dict(color="#8a8a8a", width=1), xaxis="x" + sx, yaxis="y" + sx,
                                 hoverinfo="skip"))
    else:
        mean, up, lo = p["lim"]
        for val, dash, col, w in [(up, "dot", "#555555", 1), (mean, "solid", "#777777", 1.5),
                                  (lo, "dot", "#555555", 1)]:
            shapes.append(dict(type="line", xref="x" + sx + " domain", x0=0, x1=1, yref="y" + sx,
                               y0=val, y1=val, line=dict(color=col, width=w, dash=dash), layer="below"))
        for txt, yp in zip(["+1.96 SD", "mean", "-1.96 SD"], p["labels"]):
            annotations.append(dict(text=txt, xref="paper", yref="paper", x=fx(l + 4), y=fy(yp),
                                    xanchor="left", yanchor="middle", showarrow=False,
                                    font=dict(family=FONT, size=9, color="#808080")))

    fig.add_trace(go.Scatter(x=xs, y=ys, mode="markers", xaxis="x" + sx, yaxis="y" + sx,
                             marker=dict(color=p["color"], size=4.6, line=dict(width=0))))

# axis titles (pixel positions measured on the figure)
TF = dict(family=FONT, size=12.5, color="#1a1a1a")
titles = [
    ("<b>QFR<sub>staged</sub></b>", 190, 348, 0),
    ("<b>QFR<sub>baseline</sub></b>", 11, 167, -90),
    ("<b>(QFR<sub>baseline</sub> + QFR<sub>staged</sub>)/2</b>", 572, 348, 0),
    ("<b>QFR<sub>baseline</sub> - QFR<sub>staged</sub></b>", 351, 204, -90),
    ("<b>diameter stenosis<sub>staged</sub></b>", 193, 727, 0),
    ("<b>diameter stenosis<sub>baseline</sub></b>", 11, 559, -90),
    ("<b>(diameter stenosis<sub>baseline</sub> + diameter stenosis<sub>staged</sub>)/2</b>", 538, 727, 0),
    ("<b>diameter stenosis<sub>baseline</sub> \u2013 diameter stenosis<sub>staged</sub></b>", 352, 555, -90),
    ("<b>area stenosis<sub>staged</sub></b>", 190, 1107, 0),
    ("<b>area stenosis<sub>baseline</sub></b>", 11, 924, -90),
    ("<b>(area stenosis<sub>baseline</sub> + area stenosis<sub>staged</sub>)/2</b>", 513, 1107, 0),
    ("<b>area stenosis<sub>baseline</sub> \u2013 area stenosis<sub>staged</sub></b>", 352, 937, -90),
]
for txt, x, y, ang in titles:
    annotations.append(dict(text=txt, xref="paper", yref="paper", x=fx(x), y=fy(y), xanchor="center",
                            yanchor="middle", textangle=ang, showarrow=False, font=TF))

for letter, x, y in [("A", 36, 15), ("B", 36, 391), ("C", 35, 774)]:
    annotations.append(dict(text="<b>" + letter + "</b>", xref="paper", yref="paper", x=fx(x), y=fy(y),
                            xanchor="center", yanchor="middle", showarrow=False,
                            font=dict(family="Liberation Sans", size=21, color="black")))

layout["shapes"] = shapes
layout["annotations"] = annotations
fig.update_layout(**layout)

fig.write_html("out.html", config={"displayModeBar": False},
               post_script="document.body.style.margin='0';")
